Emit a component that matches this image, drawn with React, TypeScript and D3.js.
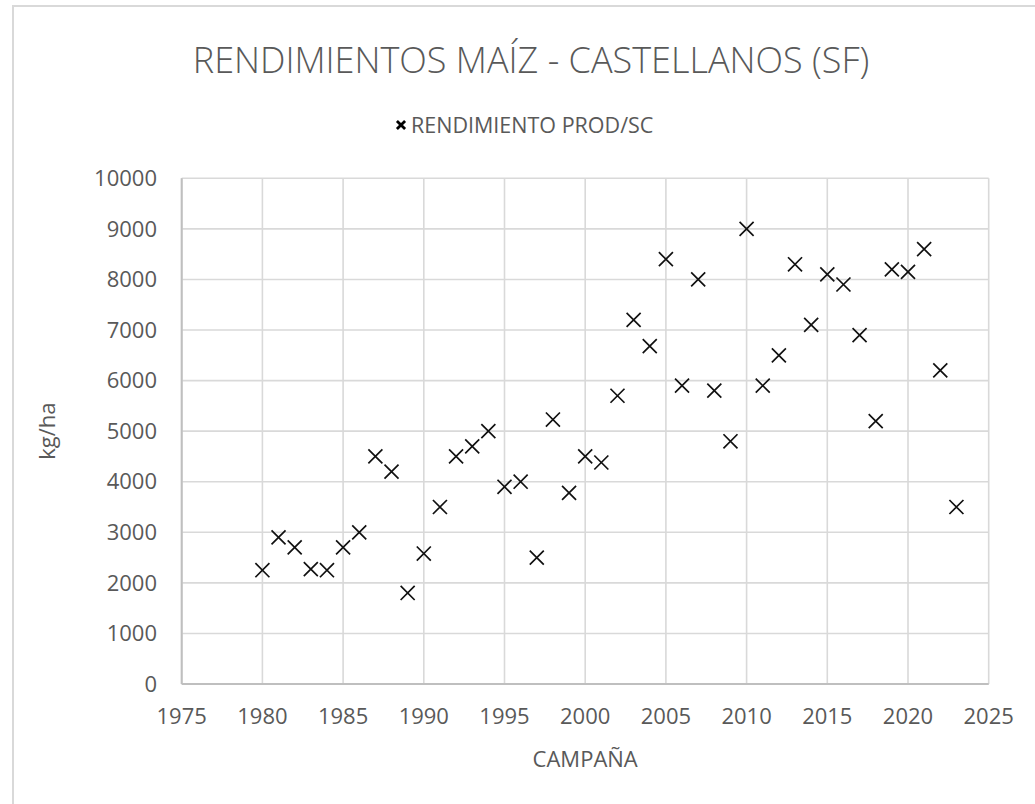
import React, { useEffect, useRef } from 'react';
import * as d3 from 'd3';

// Campañas (años) y rendimiento en kg/ha
const campaigns = [
  1980, 1981, 1982, 1983, 1984, 1985, 1986, 1987, 1988, 1989,
  1990, 1991, 1992, 1993, 1994, 1995, 1996, 1997, 1998, 1999,
  2000, 2001, 2002, 2003, 2004, 2005, 2006, 2007, 2008, 2009,
  2010, 2011, 2012, 2013, 2014, 2015, 2016, 2017, 2018, 2019,
  2020, 2021, 2022, 2023,
];
const yields = [
  2250, 2900, 2700, 2270, 2250, 2700, 3000, 4500, 4200, 1800,
  2580, 3500, 4500, 4700, 5000, 3900, 4000, 2500, 5230, 3780,
  4500, 4380, 5700, 7200, 6680, 8400, 5900, 8000, 5800, 4800,
  9000, 5900, 6500, 8300, 7100, 8100, 7900, 6900, 5200, 8200,
  8150, 8600, 6200, 3500,
];
const xTicks = [1975, 1980, 1985, 1990, 1995, 2000, 2005, 2010, 2015, 2020, 2025];
const yTicks = [0, 1000, 2000, 3000, 4000, 5000, 6000, 7000, 8000, 9000, 10000];

const title = 'RENDIMIENTOS MAÍZ - CASTELLANOS (SF)';
const seriesName = 'RENDIMIENTO PROD/SC';
const xTitle = 'CAMPAÑA';
const yTitle = 'kg/ha';

const W = 1035;
const H = 804;
const FONT = "'Open Sans', 'Liberation Sans', sans-serif";
const TEXT = '#595959';

const App = () => {
  const svgRef = useRef<SVGSVGElement>(null);

  useEffect(() => {
    const svg = d3.select(svgRef.current);
    svg.selectAll('*').remove();

    const plot = { left: 181.7, right: 988.7, top: 178.3, bottom: 684 };

    const x = d3.scaleLinear().domain([1975, 2025]).range([plot.left, plot.right]);
    const y = d3.scaleLinear().domain([0, 10000]).range([plot.bottom, plot.top]);

    // chart border (only top/left visible in the crop)
    svg.append('rect')
      .attr('x', 13).attr('y', 6)
      .attr('width', 1100).attr('height', 900)
      .attr('fill', '#fff')
      .attr('stroke', '#d9d9d9')
      .attr('stroke-width', 2);

    // title
    svg.append('text')
      .attr('x', 531).attr('y', 73)
      .attr('text-anchor', 'middle')
      .attr('font-family', FONT)
      .attr('font-size', 36)
      .attr('font-weight', 300)
      .attr('fill', TEXT)
      .text(title);

    // legend
    const legend = svg.append('g');
    legend.append('path')
      .attr('d', d3.symbol().type(d3.symbolX).size(45)())
      .attr('transform', 'translate(401,125)')
      .attr('stroke', '#000')
      .attr('stroke-width', 2.8)
      .attr('fill', 'none');
    legend.append('text')
      .attr('x', 411).attr('y', 133)
      .attr('font-family', FONT)
      .attr('font-size', 21.5)
      .attr('fill', TEXT)
      .text(seriesName);

    // grid
    const grid = svg.append('g');
    grid.selectAll('.hy')
      .data(yTicks)
      .enter()
      .append('line')
      .attr('x1', plot.left).attr('x2', plot.right)
      .attr('y1', d => y(d)).attr('y2', d => y(d))
      .attr('stroke', '#d9d9d9')
      .attr('stroke-width', 1.6);
    grid.selectAll('.vx')
      .data(xTicks)
      .enter()
      .append('line')
      .attr('x1', d => x(d)).attr('x2', d => x(d))
      .attr('y1', plot.top).attr('y2', plot.bottom)
      .attr('stroke', '#d9d9d9')
      .attr('stroke-width', 1.6);

    // axis lines
    svg.append('line')
      .attr('x1', plot.left).attr('x2', plot.right)
      .attr('y1', plot.bottom).attr('y2', plot.bottom)
      .attr('stroke', '#bfbfbf').attr('stroke-width', 2);
    svg.append('line')
      .attr('x1', plot.left).attr('x2', plot.left)
      .attr('y1', plot.top).attr('y2', plot.bottom)
      .attr('stroke', '#bfbfbf').attr('stroke-width', 2);

    // tick labels
    svg.append('g')
      .selectAll('text')
      .data(yTicks)
      .enter()
      .append('text')
      .attr('x', 157)
      .attr('y', d => y(d))
      .attr('dy', '0.35em')
      .attr('text-anchor', 'end')
      .attr('font-family', FONT)
      .attr('font-size', 22)
      .attr('fill', TEXT)
      .text(d => String(d));

    svg.append('g')
      .selectAll('text')
      .data(xTicks)
      .enter()
      .append('text')
      .attr('x', d => x(d))
      .attr('y', 724)
      .attr('text-anchor', 'middle')
      .attr('font-family', FONT)
      .attr('font-size', 22)
      .attr('fill', TEXT)
      .text(d => String(d));

    // axis titles
    svg.append('text')
      .attr('x', (plot.left + plot.right) / 2)
      .attr('y', 767)
      .attr('text-anchor', 'middle')
      .attr('font-family', FONT)
      .attr('font-size', 22)
      .attr('fill', TEXT)
      .text(xTitle);

    svg.append('text')
      .attr('transform', `translate(55,${(plot.top + plot.bottom) / 2}) rotate(-90)`)
      .attr('text-anchor', 'middle')
      .attr('font-family', FONT)
      .attr('font-size', 22)
      .attr('fill', TEXT)
      .text(yTitle);

    // markers
    const marker = d3.symbol().type(d3.symbolX).size(130);
    svg.append('g')
      .selectAll('path')
      .data(campaigns.map((c, i) => ({ c, v: yields[i] })))
      .enter()
      .append('path')
      .attr('d', marker())
      .attr('transform', d => `translate(${x(d.c)},${y(d.v)})`)
      .attr('stroke', '#111')
      .attr('stroke-width', 1.7)
      .attr('fill', 'none');
  }, []);

  return (
    <div style={{ position: 'absolute', left: 0, top: 0 }}>
      <svg ref={svgRef} width={W} height={H} style={{ display: 'block', background: '#fff' }} />
    </div>
  );
};

export default App;
